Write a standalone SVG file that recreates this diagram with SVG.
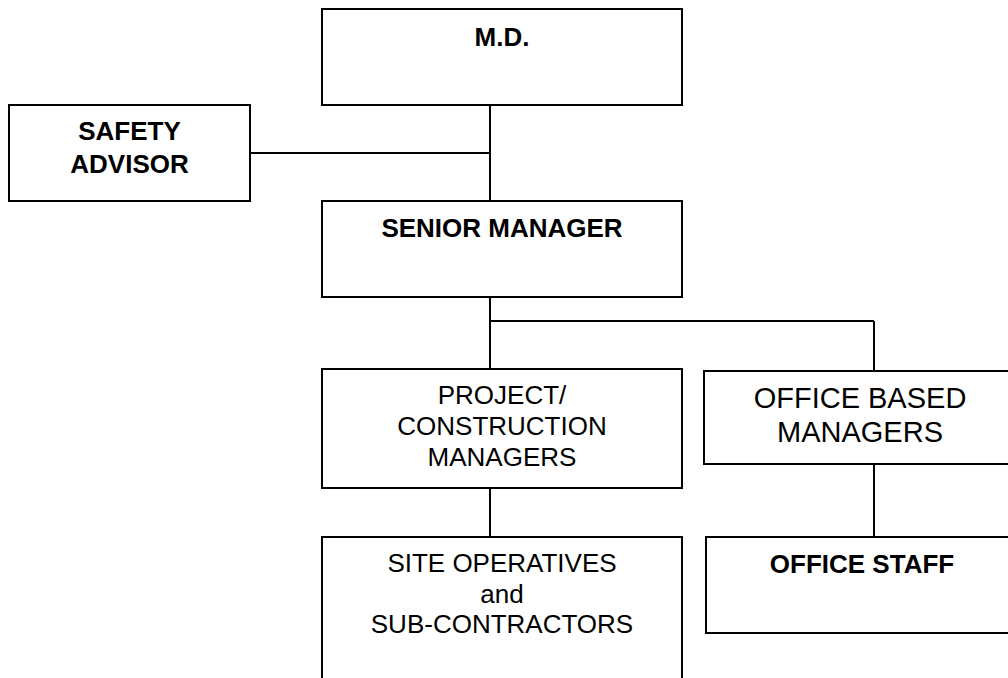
<svg xmlns="http://www.w3.org/2000/svg" width="1008" height="678" viewBox="0 0 1008 678">
<style>
.box{fill:#fff;stroke:#000;stroke-width:2}
.ln{fill:none;stroke:#000;stroke-width:2}
text{font-family:"Liberation Sans",Arial,sans-serif;fill:#000;text-anchor:middle}
.b{font-weight:bold;font-size:26px}
.r{font-size:26px}
.r2{font-size:29px}
</style>
<rect width="1008" height="678" fill="#fff"/>
<g id="connectors">
<line class="ln" x1="490" y1="105" x2="490" y2="201"/>
<line class="ln" x1="250" y1="153" x2="490" y2="153"/>
<line class="ln" x1="490" y1="297" x2="490" y2="369"/>
<line class="ln" x1="490" y1="321" x2="874" y2="321"/>
<line class="ln" x1="874" y1="321" x2="874" y2="371"/>
<line class="ln" x1="490" y1="488" x2="490" y2="537"/>
<line class="ln" x1="874" y1="464" x2="874" y2="537"/>
</g>
<g id="md">
<rect class="box" x="322" y="9" width="360" height="96"/>
<text class="b" x="502" y="46">M.D.</text>
</g>
<g id="safety">
<rect class="box" x="9" y="105" width="241" height="96"/>
<text class="b" x="129.5" y="140">SAFETY</text>
<text class="b" x="129.5" y="173">ADVISOR</text>
</g>
<g id="senior">
<rect class="box" x="322" y="201" width="360" height="96"/>
<text class="b" x="502" y="237">SENIOR MANAGER</text>
</g>
<g id="project">
<rect class="box" x="322" y="369" width="360" height="119"/>
<text class="r" x="502" y="404">PROJECT/</text>
<text class="r" x="502" y="435">CONSTRUCTION</text>
<text class="r" x="502" y="466">MANAGERS</text>
</g>
<g id="officebased">
<rect class="box" x="704" y="371" width="312" height="93"/>
<text class="r2" x="860" y="408">OFFICE BASED</text>
<text class="r2" x="860" y="442">MANAGERS</text>
</g>
<g id="site">
<rect class="box" x="322" y="537" width="360" height="160"/>
<text class="r" x="502" y="572">SITE OPERATIVES</text>
<text class="r" x="502" y="603">and</text>
<text class="r" x="502" y="633">SUB-CONTRACTORS</text>
</g>
<g id="officestaff">
<rect class="box" x="706" y="537" width="310" height="96"/>
<text class="b" x="862" y="573">OFFICE STAFF</text>
</g>
</svg>
